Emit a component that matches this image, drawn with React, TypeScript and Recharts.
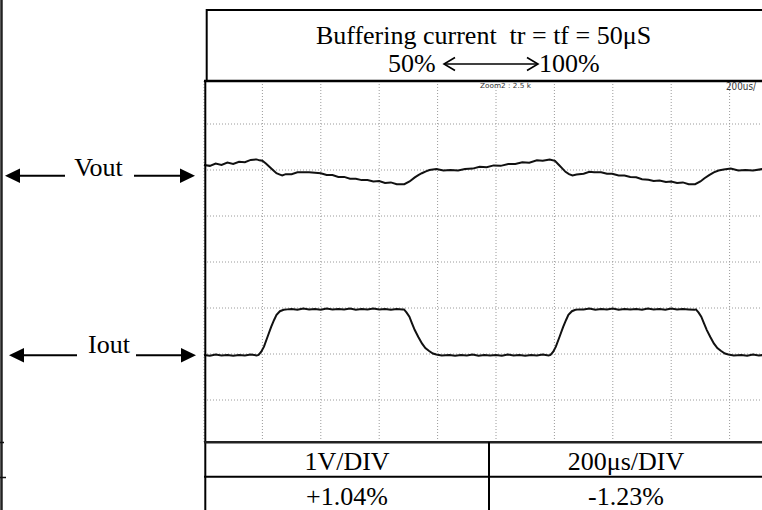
import React from 'react';
import { LineChart, Line, XAxis, YAxis, CartesianGrid } from 'recharts';

// time in divisions (200 µs/div), level in divisions from bottom of screen
const voutTime = [0, 0.1, 0.2, 0.3, 0.4, 0.5, 0.6, 0.7, 0.8, 0.9, 0.95, 1.0, 1.06, 1.12, 1.18, 1.24, 1.3, 1.34, 1.4, 1.5, 1.6, 1.7, 1.8, 1.9, 2.0, 2.1, 2.2, 2.3, 2.4, 2.5, 2.6, 2.7, 2.8, 2.9, 3.0, 3.1, 3.2, 3.3, 3.43, 3.52, 3.61, 3.67, 3.73, 3.8, 3.86, 3.98, 4.1, 4.22, 4.35, 4.47, 4.6, 4.72, 4.84, 4.96, 5.08, 5.21, 5.33, 5.45, 5.57, 5.7, 5.8, 5.92, 6.01, 6.07, 6.13, 6.19, 6.25, 6.31, 6.38, 6.5, 6.6, 6.68, 6.8, 6.9, 6.99, 7.1, 7.2, 7.3, 7.4, 7.5, 7.61, 7.7, 7.8, 7.91, 8.0, 8.1, 8.2, 8.3, 8.41, 8.5, 8.57, 8.65, 8.73, 8.81, 8.9, 9.02, 9.15, 9.27, 9.4, 9.56, 9.7, 10];
const voutLevel = [6.11, 6.09, 6.14, 6.11, 6.16, 6.13, 6.18, 6.17, 6.22, 6.23, 6.21, 6.2, 6.14, 6.07, 6.0, 5.93, 5.9, 5.88, 5.91, 5.91, 5.95, 5.95, 5.95, 5.94, 5.93, 5.89, 5.89, 5.85, 5.85, 5.81, 5.81, 5.78, 5.78, 5.75, 5.76, 5.72, 5.73, 5.69, 5.69, 5.75, 5.84, 5.89, 5.93, 5.97, 6.0, 6.02, 5.99, 6.0, 5.99, 6.02, 6.03, 6.07, 6.06, 6.1, 6.09, 6.13, 6.13, 6.17, 6.16, 6.21, 6.2, 6.23, 6.2, 6.12, 6.04, 5.96, 5.91, 5.88, 5.9, 5.92, 5.96, 5.95, 5.95, 5.92, 5.92, 5.88, 5.88, 5.85, 5.84, 5.8, 5.79, 5.76, 5.77, 5.74, 5.75, 5.72, 5.73, 5.69, 5.69, 5.75, 5.82, 5.89, 5.95, 5.99, 6.01, 6.03, 5.99, 6.0, 5.99, 6.02, 5.99, 6.01];

const ioutTime = [0, 0.1, 0.2, 0.3, 0.4, 0.5, 0.6, 0.7, 0.8, 0.9, 0.935, 0.98, 1.027, 1.09, 1.15, 1.2, 1.242, 1.3, 1.365, 1.427, 1.5, 1.6, 1.7, 1.8, 1.9, 2.0, 2.1, 2.2, 2.3, 2.4, 2.5, 2.6, 2.7, 2.8, 2.9, 3.0, 3.1, 3.2, 3.3, 3.4, 3.425, 3.47, 3.517, 3.56, 3.609, 3.67, 3.732, 3.79, 3.855, 3.92, 3.978, 4.07, 4.2, 4.3, 4.4, 4.5, 4.6, 4.7, 4.8, 4.9, 5.0, 5.1, 5.2, 5.3, 5.4, 5.5, 5.6, 5.7, 5.8, 5.9, 5.933, 5.98, 6.025, 6.09, 6.15, 6.2, 6.24, 6.3, 6.36, 6.43, 6.5, 6.6, 6.7, 6.8, 6.9, 7.0, 7.1, 7.2, 7.3, 7.4, 7.5, 7.6, 7.7, 7.8, 7.9, 8.0, 8.1, 8.2, 8.3, 8.4, 8.423, 8.47, 8.515, 8.56, 8.61, 8.67, 8.73, 8.79, 8.855, 8.92, 8.98, 9.07, 9.2, 9.3, 9.4, 9.5, 9.6, 9.7, 9.8, 9.9, 10];
const ioutLevel = [1.98, 1.96, 1.99, 1.97, 1.98, 1.96, 1.98, 1.97, 1.99, 1.97, 1.98, 2.05, 2.16, 2.38, 2.59, 2.74, 2.85, 2.93, 2.96, 2.97, 2.98, 2.96, 2.99, 2.97, 2.98, 2.96, 2.99, 2.97, 2.98, 2.97, 2.99, 2.96, 2.98, 2.97, 2.99, 2.97, 2.98, 2.96, 2.98, 2.97, 2.97, 2.9, 2.81, 2.67, 2.52, 2.37, 2.23, 2.13, 2.065, 2.01, 1.99, 1.97, 1.98, 1.96, 1.98, 1.97, 1.99, 1.96, 1.98, 1.97, 1.98, 1.96, 1.99, 1.97, 1.98, 1.96, 1.98, 1.97, 1.99, 1.97, 1.98, 2.05, 2.16, 2.38, 2.59, 2.74, 2.85, 2.93, 2.96, 2.97, 2.97, 2.99, 2.96, 2.98, 2.97, 2.99, 2.96, 2.98, 2.97, 2.98, 2.96, 2.99, 2.97, 2.98, 2.96, 2.99, 2.97, 2.98, 2.97, 2.96, 2.97, 2.9, 2.81, 2.67, 2.52, 2.37, 2.23, 2.13, 2.065, 2.01, 1.99, 1.97, 1.98, 1.96, 1.99, 1.97, 1.98, 1.96, 1.98, 1.97, 1.98];

const xTicks = [0, 1, 2, 3, 4, 5, 6, 7, 8, 9, 10];
const yTicks = [1, 2, 3, 4, 5, 6, 7];

const titleLine1 = 'Buffering current  tr = tf = 50\u03bcS';
const fromLabel = '50%';
const toLabel = '100%';
const voltsPerDiv = '1V/DIV';
const timePerDiv = '200\u03bcs/DIV';
const voutDeviation = '+1.04%';
const ioutDeviation = '-1.23%';

type Row = { t: number; vout?: number; iout?: number };
const rows: Row[] = [];
voutTime.forEach((t, i) => rows.push({ t, vout: voutLevel[i] }));
ioutTime.forEach((t, i) => rows.push({ t, iout: ioutLevel[i] }));
rows.sort((a, b) => a.t - b.t);

const SERIF = '"Liberation Serif", "Times New Roman", serif';

export default function App() {
  return (
    <div style={{ position: 'fixed', left: 0, top: 0, width: 762, height: 510, overflow: 'hidden', background: '#fff' }}>
      <div style={{ position: 'absolute', left: 0, top: 0 }}>
        <LineChart width={800} height={510} data={rows} margin={{ top: 78, left: 204, right: 12, bottom: 64 }}>
          <CartesianGrid stroke="#9a9a9a" strokeDasharray="1 2" strokeWidth={1} />
          <XAxis type="number" dataKey="t" domain={[0, 10]} ticks={xTicks} hide allowDataOverflow />
          <YAxis type="number" domain={[0, 8]} ticks={yTicks} hide allowDataOverflow />
          <Line dataKey="vout" type="linear" stroke="#111" strokeWidth={2} dot={false} connectNulls isAnimationActive={false} />
          <Line dataKey="iout" type="linear" stroke="#111" strokeWidth={2} dot={false} connectNulls isAnimationActive={false} />
        </LineChart>
      </div>
      <svg width={762} height={510} style={{ position: 'absolute', left: 0, top: 0 }}>
        {/* mask areas outside the scope screen */}
        <rect x={203} y={0} width={560} height={81} fill="#fff" />
        <rect x={203} y={442} width={560} height={68} fill="#fff" />
        {/* left page border */}
        <line x1={1.5} y1={0} x2={1.5} y2={510} stroke="#222" strokeWidth={2.5} />
        <line x1={0} y1={442.5} x2={4} y2={442.5} stroke="#111" strokeWidth={1.5} />
        <line x1={0} y1={477.5} x2={6} y2={477.5} stroke="#111" strokeWidth={1.5} />
        {/* title box */}
        <line x1={206.5} y1={10} x2={762} y2={10} stroke="#000" strokeWidth={2} />
        <line x1={206.7} y1={9} x2={206.7} y2={81} stroke="#000" strokeWidth={2} />
        <line x1={204} y1={81} x2={762} y2={81} stroke="#000" strokeWidth={2.5} />
        {/* scope left border */}
        <line x1={205.3} y1={80} x2={205.3} y2={510} stroke="#000" strokeWidth={2} />
        {/* table */}
        <line x1={204} y1={442.3} x2={762} y2={442.3} stroke="#222" strokeWidth={2.5} />
        <line x1={204} y1={476.7} x2={762} y2={476.7} stroke="#000" strokeWidth={2} />
        <line x1={489} y1={442} x2={489} y2={510} stroke="#000" strokeWidth={2} />
        {/* scope annotations */}
        <text x={480} y={88} fontSize={7} fontFamily="DejaVu Sans" fill="#333" textLength={51} lengthAdjust="spacingAndGlyphs">Zoom2 : 2.5 k</text>
        <text x={726} y={90} fontSize={10} fontFamily="DejaVu Sans" fill="#333" textLength={30} lengthAdjust="spacingAndGlyphs">200us/</text>
        {/* title text */}
        <text x={483.5} y={44} textAnchor="middle" fontSize={26} fontFamily={SERIF} fill="#000" style={{ whiteSpace: 'pre' }}>{titleLine1}</text>
        <text x={388} y={72} fontSize={26} fontFamily={SERIF} fill="#000">{fromLabel}</text>
        <text x={539} y={72} fontSize={26} fontFamily={SERIF} fill="#000">{toLabel}</text>
        <g stroke="#000" strokeWidth={1.6} fill="none">
          <line x1={445} y1={64} x2={537} y2={64} />
          <polyline points="455,57.5 444,64 455,70.5" />
          <polyline points="527,57.5 538,64 527,70.5" />
        </g>
        {/* Vout label */}
        <text x={98.5} y={175.5} textAnchor="middle" fontSize={26} fontFamily={SERIF} fill="#000">Vout</text>
        <line x1={18} y1={175.7} x2={65} y2={175.7} stroke="#000" strokeWidth={2} />
        <polygon points="5,175.7 20,168.5 20,183" fill="#000" />
        <line x1={134} y1={175.7} x2={182} y2={175.7} stroke="#000" strokeWidth={2} />
        <polygon points="195,175.7 180,168.5 180,183" fill="#000" />
        {/* Iout label */}
        <text x={109} y={352.7} textAnchor="middle" fontSize={26} fontFamily={SERIF} fill="#000">Iout</text>
        <line x1={22} y1={355.3} x2={77} y2={355.3} stroke="#000" strokeWidth={2} />
        <polygon points="9,355.3 24,348 24,362.5" fill="#000" />
        <line x1={136} y1={355.3} x2={183} y2={355.3} stroke="#000" strokeWidth={2} />
        <polygon points="196,355.3 181,348 181,362.5" fill="#000" />
        {/* table text */}
        <text x={347} y={470} textAnchor="middle" fontSize={26} fontFamily={SERIF} fill="#000">{voltsPerDiv}</text>
        <text x={626} y={470} textAnchor="middle" fontSize={26} fontFamily={SERIF} fill="#000">{timePerDiv}</text>
        <text x={347} y={505} textAnchor="middle" fontSize={26} fontFamily={SERIF} fill="#000">{voutDeviation}</text>
        <text x={626} y={505} textAnchor="middle" fontSize={26} fontFamily={SERIF} fill="#000">{ioutDeviation}</text>
      </svg>
    </div>
  );
}
